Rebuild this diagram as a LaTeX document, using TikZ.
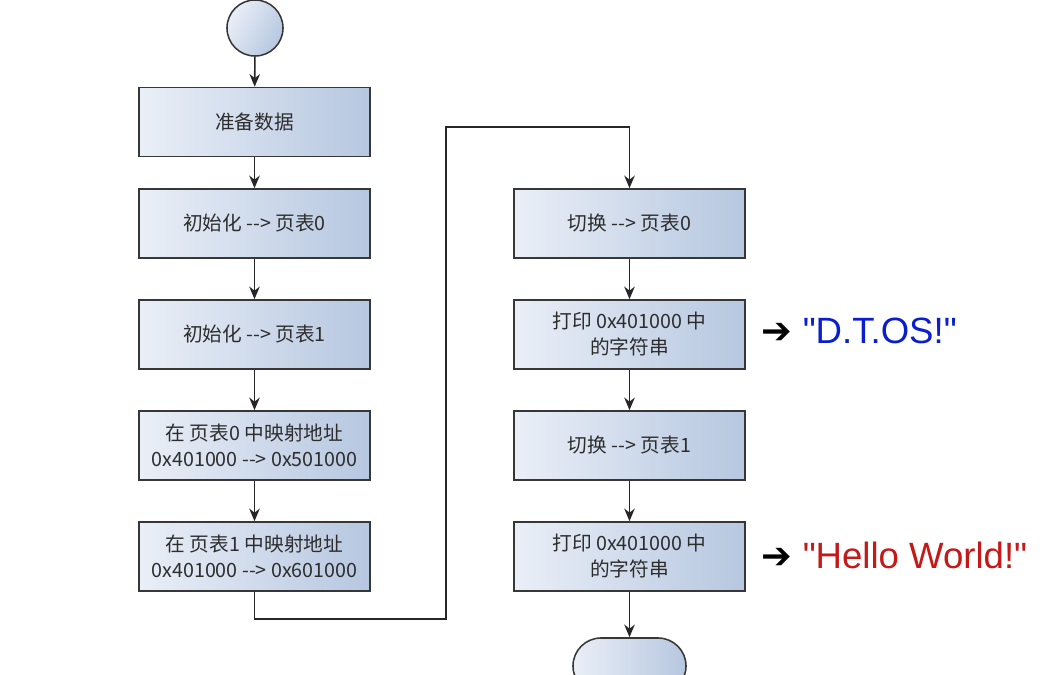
\documentclass[tikz,border=0pt]{standalone}
\usepackage{fontspec}
\setmainfont{Noto Sans CJK SC}
\newfontfamily\labelfont{Liberation Sans}
\newfontfamily\symfont{DejaVu Sans}
\usepackage{xcolor}
\usetikzlibrary{arrows.meta, positioning}

\definecolor{boxl}{RGB}{234,239,247}
\definecolor{boxr}{RGB}{182,199,224}
\definecolor{boxline}{RGB}{55,55,55}
\definecolor{boxtext}{RGB}{45,45,45}
\definecolor{dtblue}{RGB}{10,30,205}
\definecolor{hwred}{RGB}{195,25,25}

\begin{document}
\begin{tikzpicture}[x=0.025cm, y=-0.025cm,
    block/.style={rectangle, draw=boxline, line width=1.1pt, left color=boxl,
                  right color=boxr, minimum width=5.775cm, minimum height=1.725cm,
                  align=center, text=boxtext, font=\fontsize{14}{18.5}\selectfont},
    startnode/.style={circle, draw=boxline, line width=1.1pt, left color=boxl,
                      right color=boxr, shading angle=60, minimum size=1.4cm},
    endnode/.style={rectangle, rounded corners=0.7cm, draw=boxline, line width=1.1pt,
                    left color=boxl, right color=boxr, minimum width=2.825cm,
                    minimum height=1.4cm},
    outlabel/.style={font=\labelfont\fontsize{26}{30}\selectfont, anchor=west},
    arrow/.style={-{Stealth[length=9pt,width=7.5pt]}, line width=1.1pt, draw=black!85},
]
\useasboundingbox (0,0) rectangle (1059,675);
% left column
\node[startnode] (start) at (255,28)    {};
\node[block] (prep) at (254.5,122)      {准备数据};
\node[block] (init0) at (254.5,223.5)   {初始化 -{}-> 页表0};
\node[block] (init1) at (254.5,334.5)   {初始化 -{}-> 页表1};
\node[block] (map0) at (254.5,445.5)    {在 页表0 中映射地址\\0x401000 -{}-> 0x501000};
\node[block] (map1) at (254.5,556.5)    {在 页表1 中映射地址\\0x401000 -{}-> 0x601000};
% right column
\node[block] (sw0) at (629.5,223.5)     {切换 -{}-> 页表0};
\node[block] (print0) at (629.5,334.5)  {打印 0x401000 中\\的字符串};
\node[block] (sw1) at (629.5,445.5)     {切换 -{}-> 页表1};
\node[block] (print1) at (629.5,556.5)  {打印 0x401000 中\\的字符串};
\node[endnode] (stop) at (629.5,666)    {};
% outputs
\node[outlabel] (out0) at (757,331) {{\symfont\fontsize{26}{26}\selectfont ➔}\ \textcolor{dtblue}{"D.T.OS!"}};
\node[outlabel] (out1) at (757,555) {{\symfont\fontsize{26}{26}\selectfont ➔}\ \textcolor{hwred}{"Hello World!"}};
% bends
\coordinate (low) at (446,619);
\coordinate (high) at (446,127);

% flow
\draw[arrow] (start) -- (prep);
\draw[arrow] (prep) -- (init0);
\draw[arrow] (init0) -- (init1);
\draw[arrow] (init1) -- (map0);
\draw[arrow] (map0) -- (map1);
\draw[arrow] (map1.south) |- (low) -- (high) -| (sw0.north);
\draw[arrow] (sw0) -- (print0);
\draw[arrow] (print0) -- (sw1);
\draw[arrow] (sw1) -- (print1);
\draw[arrow] (print1) -- (stop);
\end{tikzpicture}
\end{document}
